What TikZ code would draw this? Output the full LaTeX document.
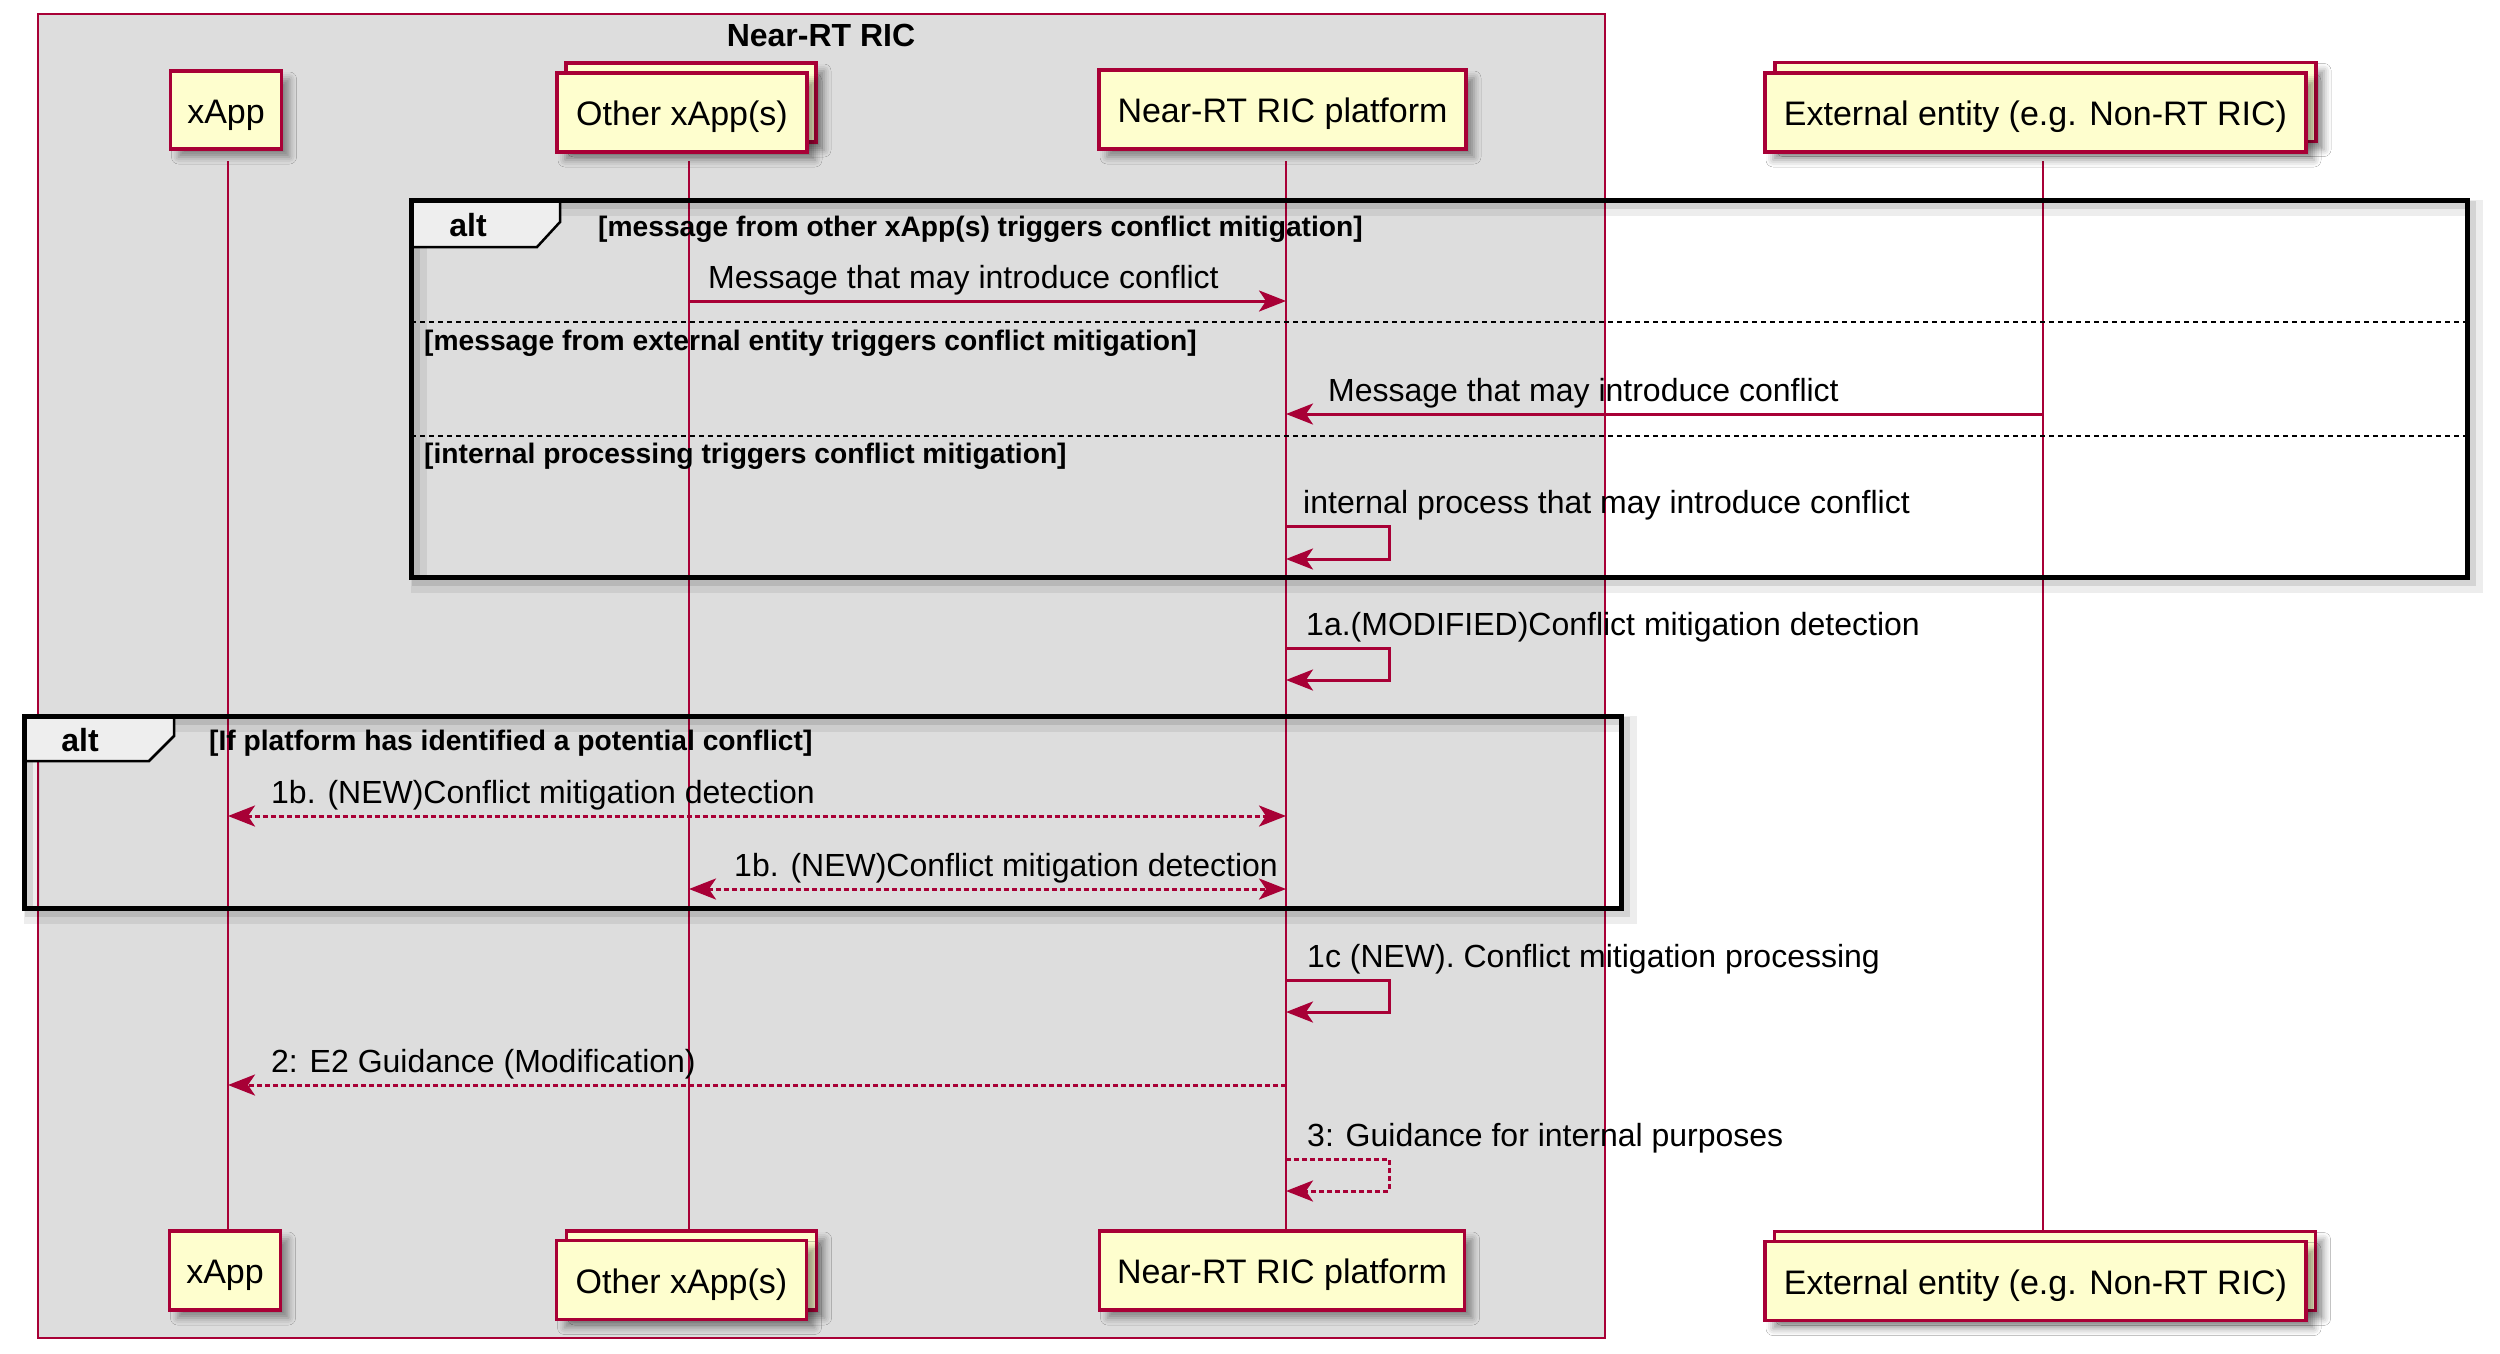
\documentclass[tikz,border=0pt]{standalone}
\usepackage{fontspec}
\setmainfont{Liberation Sans}
\usetikzlibrary{arrows.meta,shadows.blur}
\definecolor{rb}{HTML}{A80036}
\definecolor{pf}{HTML}{FEFECE}
\definecolor{gb}{HTML}{DDDDDD}
\definecolor{tabc}{HTML}{EEEEEE}
\tikzset{
  shad/.style={blur shadow={shadow xshift=8pt,shadow yshift=-8pt,shadow blur radius=7pt,shadow opacity=40}},
  part/.style={draw=rb,fill=pf,line width=3.5pt,inner sep=0pt,text height=26pt,text depth=0pt,font=\fontsize{34}{40}\selectfont,shad},
  life/.style={draw=rb,line width=2pt},
  tipA/.tip={Stealth[length=27pt,width=21pt,inset=7pt]},
  msg/.style={draw=rb,line width=3pt,-tipA},
  dmsg/.style={msg,dash pattern=on 5pt off 3pt},
  bmsg/.style={draw=rb,line width=3pt,dash pattern=on 5pt off 3pt,tipA-tipA},
  lbl/.style={anchor=base west,inner sep=0pt,font=\fontsize{32}{38}\selectfont},
  cond/.style={anchor=base west,inner sep=0pt,font=\fontsize{28.2}{32}\selectfont\bfseries},
  altlbl/.style={anchor=base,inner sep=0pt,font=\fontsize{32}{38}\selectfont\bfseries},
  frm/.style={draw=black,line width=5pt},
  frmshA/.style={draw=black,opacity=0.07,line width=16pt},
  frmshB/.style={draw=black,opacity=0.10,line width=8pt},
  tabst/.style={draw=black,fill=tabc,line width=2.5pt},
  sep/.style={draw=black,line width=2.5pt,dash pattern=on 5pt off 4pt},
}
\begin{document}
\begin{tikzpicture}[x=1pt,y=-1pt]
\useasboundingbox (0,0) rectangle (2500,1353);
\fill[white] (0,0) rectangle (2500,1353);
% group box
\draw[draw=rb,fill=gb,line width=2pt] (38,14) rectangle (1605,1338);
\node[font=\fontsize{32}{38}\selectfont\bfseries,inner sep=0pt] (grp) at (821,35) {Near-RT RIC};
% lifeline columns and rows
\coordinate (xA) at (228,0);
\coordinate (oX) at (689,0);
\coordinate (pL) at (1286,0);
\coordinate (eX) at (2043,0);
\coordinate (sx) at (1389,0);
\coordinate (ltop) at (0,161);
\coordinate (lbot) at (0,1231);
\draw[life] (xA |- ltop) -- (xA |- lbot);
\draw[life] (oX |- ltop) -- (oX |- lbot);
\draw[life] (pL |- ltop) -- (pL |- lbot);
\draw[life] (eX |- ltop) -- (eX |- lbot);
% participants top
\node[part,minimum width=111pt,minimum height=78pt] (xat) at (226,110) {xApp};
\node[part,minimum width=250pt,minimum height=79pt] (oxtb) at (691,102.5) {};
\node[part,minimum width=250pt,minimum height=79pt] (oxt) at (682,112.5) {Other xApp(s)};
\node[part,minimum width=367pt,minimum height=79pt] (plt) at (1282.5,109.5) {Near-RT RIC platform};
\node[part,minimum width=541pt,minimum height=79pt] (extb) at (2045.5,102) {};
\node[part,minimum width=541pt,minimum height=79pt] (ext) at (2035.5,112.5) {External entity (e.g. Non-RT RIC)};
% participants bottom
\node[part,minimum width=111pt,minimum height=79pt] (xab) at (225,1270.5) {xApp};
\node[part,minimum width=250pt,minimum height=79pt] (oxbb) at (691.5,1270.5) {};
\node[part,minimum width=250pt,minimum height=79pt] (oxb) at (681.5,1280) {Other xApp(s)};
\node[part,minimum width=365pt,minimum height=79pt] (plb) at (1282,1270.5) {Near-RT RIC platform};
\node[part,minimum width=541pt,minimum height=79pt] (exbb) at (2045,1271) {};
\node[part,minimum width=541pt,minimum height=79pt] (exb) at (2035.5,1281) {External entity (e.g. Non-RT RIC)};
% ---------- alt frame 1
\draw[frmshA] (419,208) rectangle (2475,585);
\draw[frmshB] (416,205) rectangle (2472,582);
\draw[tabst] (411,200) -- (560,200) -- (560,222) -- (537,247) -- (411,247) -- cycle;
\draw[frm] (411,200) rectangle (2467,577);
\node[altlbl] (alt1) at (468,236) {alt};
\node[cond] (c1) at (598,236) {[message from other xApp(s) triggers conflict mitigation]};
\draw[sep] (411,322) -- (2467,322);
\node[cond] (c2) at (424,350) {[message from external entity triggers conflict mitigation]};
\draw[sep] (411,436) -- (2467,436);
\node[cond] (c3) at (424,463) {[internal processing triggers conflict mitigation]};
% messages in frame 1
\coordinate (r1) at (0,301);
\draw[msg] (oX |- r1) -- (pL |- r1);
\node[lbl] (m1) at (708,288) {Message that may introduce conflict};
\coordinate (r2) at (0,414);
\draw[msg] (eX |- r2) -- (pL |- r2);
\node[lbl] (m2) at (1328,401) {Message that may introduce conflict};
\coordinate (r3a) at (0,526);
\coordinate (r3b) at (0,559);
\draw[msg] (pL |- r3a) -- (sx |- r3a) -- (sx |- r3b) -- (pL |- r3b);
\node[lbl] (m3) at (1303,513) {internal process that may introduce conflict};
% 1a
\coordinate (r4a) at (0,648);
\coordinate (r4b) at (0,680);
\draw[msg] (pL |- r4a) -- (sx |- r4a) -- (sx |- r4b) -- (pL |- r4b);
\node[lbl] (m4) at (1306,635) {1a.(MODIFIED)Conflict mitigation detection};
% ---------- alt frame 2
\draw[frmshA] (32,724) rectangle (1629,916);
\draw[frmshB] (29,721) rectangle (1626,913);
\draw[tabst] (24,716) -- (174,716) -- (174,736) -- (149,761) -- (24,761) -- cycle;
\draw[frm] (24,716) rectangle (1621,908);
\node[altlbl] (alt2) at (80,751) {alt};
\node[cond] (c4) at (209,750) {[If platform has identified a potential conflict]};
\coordinate (r5) at (0,816);
\draw[bmsg] (xA |- r5) -- (pL |- r5);
\node[lbl] (m5) at (271,803) {1b. (NEW)Conflict mitigation detection};
\coordinate (r6) at (0,889);
\draw[bmsg] (oX |- r6) -- (pL |- r6);
\node[lbl] (m6) at (734,876) {1b. (NEW)Conflict mitigation detection};
% 1c
\coordinate (r7a) at (0,980);
\coordinate (r7b) at (0,1012);
\draw[msg] (pL |- r7a) -- (sx |- r7a) -- (sx |- r7b) -- (pL |- r7b);
\node[lbl] (m7) at (1307,967) {1c (NEW). Conflict mitigation processing};
% 2
\coordinate (r8) at (0,1085);
\draw[dmsg] (pL |- r8) -- (xA |- r8);
\node[lbl] (m8) at (271,1072) {2: E2 Guidance (Modification)};
% 3
\coordinate (r9a) at (0,1159);
\coordinate (r9b) at (0,1191);
\draw[dmsg] (pL |- r9a) -- (sx |- r9a) -- (sx |- r9b) -- (pL |- r9b);
\node[lbl] (m9) at (1307,1146) {3: Guidance for internal purposes};
\end{tikzpicture}
\end{document}
